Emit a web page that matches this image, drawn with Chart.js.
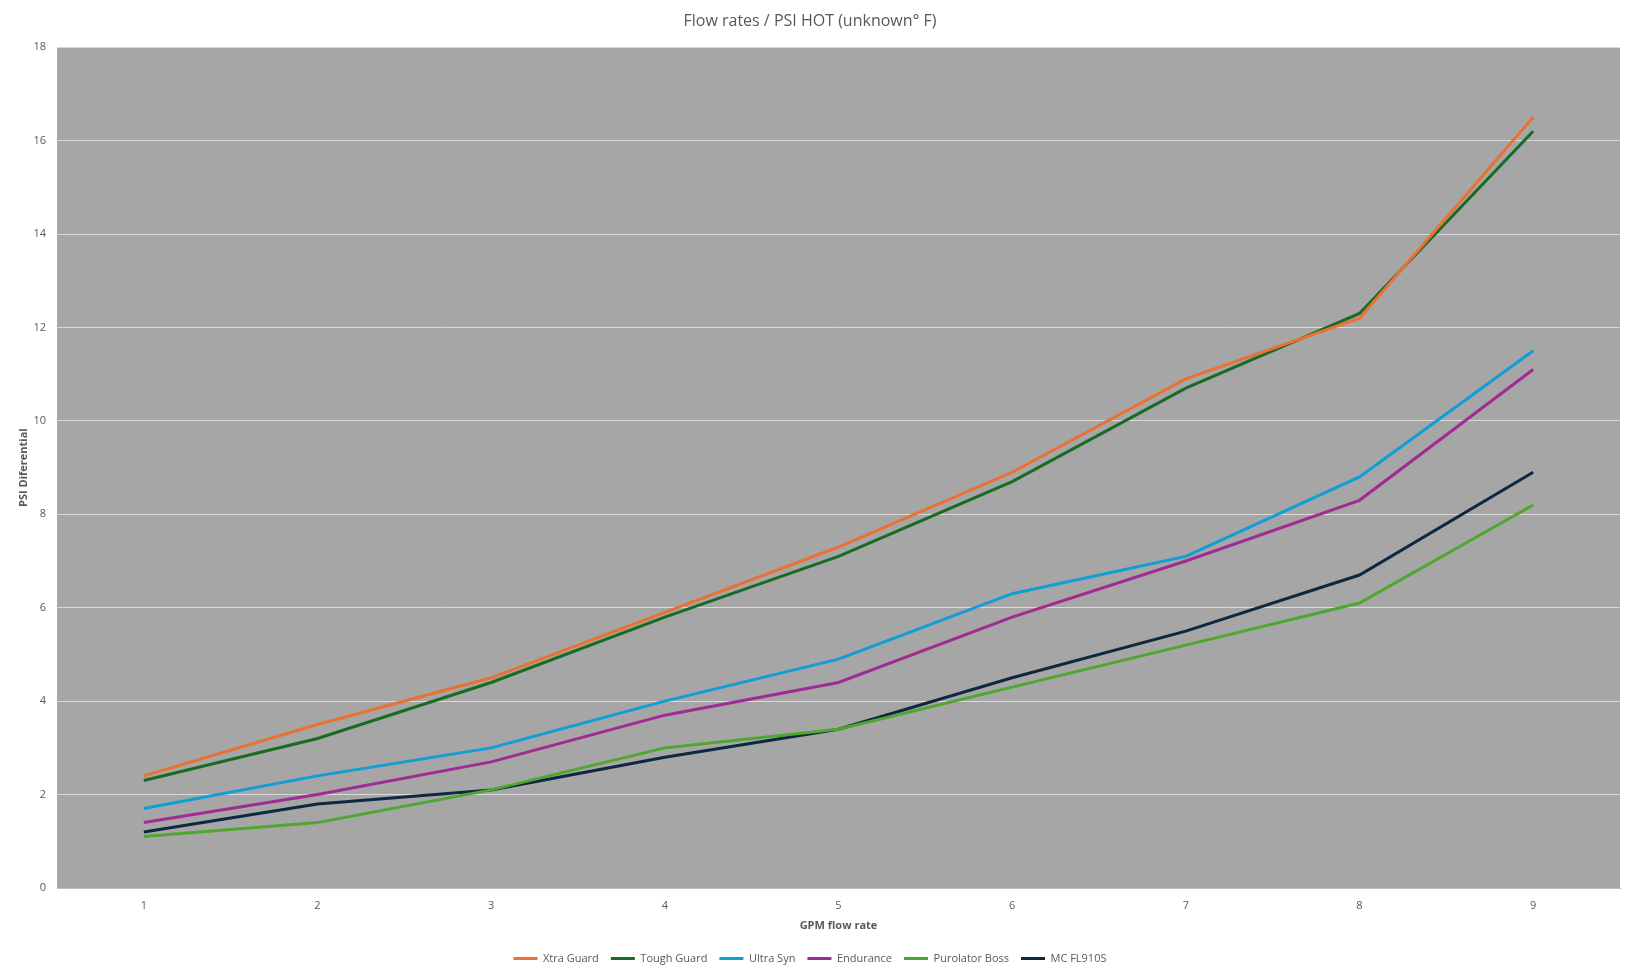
<!DOCTYPE html>
<html>
<head>
<meta charset="utf-8">
<script src="https://cdn.jsdelivr.net/npm/chart.js@4/dist/chart.umd.min.js"></script>
<style>
  body { margin: 0; background: #fff; }
  #grafico { display: block; }
</style>
</head>
<body>
<canvas id="grafico" width="1632" height="975"></canvas>
<script>
// dados
const gpm = ['1', '2', '3', '4', '5', '6', '7', '8', '9'];
const xtraGuard     = [2.4, 3.5, 4.5, 5.9, 7.3, 8.9, 10.9, 12.2, 16.5];
const toughGuard    = [2.3, 3.2, 4.4, 5.8, 7.1, 8.7, 10.7, 12.3, 16.2];
const ultraSyn      = [1.7, 2.4, 3.0, 4.0, 4.9, 6.3, 7.1, 8.8, 11.5];
const endurance     = [1.4, 2.0, 2.7, 3.7, 4.4, 5.8, 7.0, 8.3, 11.1];
const purolatorBoss = [1.1, 1.4, 2.1, 3.0, 3.4, 4.3, 5.2, 6.1, 8.2];
const mcFL910S      = [1.2, 1.8, 2.1, 2.8, 3.4, 4.5, 5.5, 6.7, 8.9];

const fonte = '"Open Sans", sans-serif';
const cinzaTexto = '#595959';

// fundo cinza da área do gráfico
const fundoArea = {
  id: 'fundoArea',
  beforeDraw(chart) {
    const { ctx, chartArea: a } = chart;
    ctx.save();
    ctx.fillStyle = '#A6A6A6';
    ctx.fillRect(a.left, a.top, a.right - a.left, a.bottom - a.top);
    ctx.restore();
  }
};

function serie(label, data, cor) {
  return {
    label: label,
    data: data,
    borderColor: cor,
    backgroundColor: cor,
    borderWidth: 3,
    pointRadius: 0,
    tension: 0
  };
}

const ctx = document.getElementById('grafico').getContext('2d');
new Chart(ctx, {
  type: 'line',
  data: {
    labels: gpm,
    datasets: [
      serie('Xtra Guard', xtraGuard, '#E97132'),
      serie('Tough Guard', toughGuard, '#196B24'),
      serie('Ultra Syn', ultraSyn, '#0F9ED5'),
      serie('Endurance', endurance, '#A02B93'),
      serie('Purolator Boss', purolatorBoss, '#4EA72E'),
      serie('MC FL910S', mcFL910S, '#0E2841')
    ]
  },
  plugins: [fundoArea],
  options: {
    responsive: false,
    animation: false,
    devicePixelRatio: 1,
    layout: { padding: { left: 0, right: 12, top: 0, bottom: 1 } },
    plugins: {
      title: {
        display: true,
        text: 'Flow rates / PSI HOT (unknown° F)',
        color: cinzaTexto,
        font: { family: fonte, size: 16, weight: 'normal' },
        padding: { top: 12, bottom: 16 }
      },
      legend: {
        position: 'bottom',
        labels: {
          usePointStyle: true,
          pointStyle: 'line',
          pointStyleWidth: 24,
          boxWidth: 24,
          padding: 12,
          color: cinzaTexto,
          font: { family: fonte, size: 11 }
        }
      },
      tooltip: { enabled: false }
    },
    scales: {
      x: {
        offset: true,
        grid: { display: false },
        border: { display: true, color: '#BFBFBF', width: 1 },
        ticks: { color: cinzaTexto, font: { family: fonte, size: 11 }, padding: 3 },
        title: {
          display: true,
          text: 'GPM flow rate',
          color: cinzaTexto,
          font: { family: fonte, size: 11, weight: 'bold' },
          padding: { top: 4, bottom: 9 }
        },
        afterFit(scale) { scale.height = 53; }
      },
      y: {
        min: 0,
        max: 18,
        ticks: { stepSize: 2, color: cinzaTexto, font: { family: fonte, size: 11 }, padding: 11 },
        grid: { color: '#D9D9D9', lineWidth: 1, drawTicks: false },
        border: { display: false },
        title: {
          display: true,
          text: 'PSI Diferential',
          color: cinzaTexto,
          font: { family: fonte, size: 11, weight: 'bold' },
          padding: { top: 17, bottom: 0 }
        },
        afterFit(scale) { scale.width = 57; }
      }
    }
  }
});
</script>
</body>
</html>
